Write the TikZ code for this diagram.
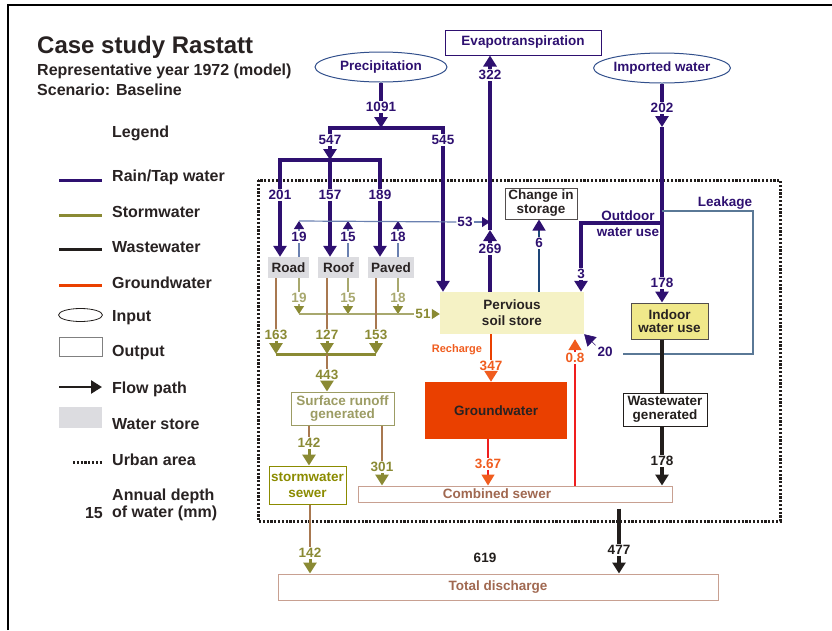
\documentclass[tikz,border=0pt]{standalone}
\usepackage{fontspec}
\setmainfont{Liberation Sans}
\usetikzlibrary{arrows.meta,positioning,shapes.geometric}

\definecolor{rain}{RGB}{46,16,112}
\definecolor{inputbd}{RGB}{50,80,140}
\definecolor{thinblue}{RGB}{106,128,176}
\definecolor{leakbd}{RGB}{90,120,150}
\definecolor{chgln}{RGB}{30,70,120}
\definecolor{storm}{RGB}{138,138,52}
\definecolor{stormlt}{RGB}{168,168,110}
\definecolor{stormtxt}{RGB}{139,139,0}
\definecolor{runoff}{RGB}{156,156,100}
\definecolor{brownl}{RGB}{168,120,80}
\definecolor{waste}{RGB}{34,30,28}
\definecolor{gw}{RGB}{234,64,0}
\definecolor{gwtxt}{RGB}{240,92,30}
\definecolor{gwred}{RGB}{240,30,30}
\definecolor{soil}{RGB}{245,242,197}
\definecolor{indoorfill}{RGB}{240,232,138}
\definecolor{storefill}{RGB}{220,220,224}
\definecolor{sewerbd}{RGB}{200,160,145}
\definecolor{sewertxt}{RGB}{160,104,80}
\definecolor{dark}{RGB}{40,34,34}

\newcommand{\legendfont}{\bfseries\fontsize{16}{17}\selectfont}
\newcommand{\boxfont}[1]{\bfseries\fontsize{13.5}{#1}\selectfont}

\begin{document}
\begin{tikzpicture}[x=1pt, y=-1pt,
    font=\boxfont{15},
    legtxt/.style={anchor=west, inner sep=0pt, font=\legendfont, text=dark},
    num/.style={inner sep=1pt},
    rainlbl/.style={num, text=rain},
    stormlbl/.style={num, text=storm},
    stormltlbl/.style={num, text=stormlt},
    gwlbl/.style={num, text=gwtxt},
    wastelbl/.style={num, text=waste},
    box/.style={align=center, inner sep=1pt, text=dark},
    store/.style={box, fill=storefill, minimum height=21pt},
    input/.style={ellipse, draw=inputbd, line width=1pt, text=rain, minimum width=132pt, minimum height=30pt, inner sep=0pt},
    rainln/.style={draw=rain, line width=3.5pt},
    rainthin/.style={draw=thinblue, line width=1.2pt},
    stormln/.style={draw=storm, line width=3pt},
    stormthin/.style={draw=stormlt, line width=1.3pt},
    brownln/.style={draw=brownl, line width=2pt},
    wasteln/.style={draw=waste, line width=3.5pt},
    gwln/.style={draw=gw, line width=2.5pt},
    redln/.style={draw=gwred, line width=1.5pt},
    leakln/.style={draw=leakbd, line width=1.2pt},
    urban/.style={draw=waste, line width=3pt, dash pattern=on 2.2pt off 1.6pt},
    headc/.style={-{Triangle[width=13pt,length=11pt,color=#1]}},
    sheadc/.style={-{Triangle[width=10pt,length=8pt,color=#1]}}
]
\useasboundingbox (0,0) rectangle (832,630);

% frame and urban area
\coordinate (fr1) at (8,630);
\coordinate (fr2) at (832,5);
\draw[line width=1.5pt] (fr1) |- (fr2);
\draw[urban] (258,180) rectangle (780,521);

% title
\node[legtxt, font=\bfseries\fontsize{24}{28}\selectfont] (title) at (37,47) {Case study Rastatt};
\node[legtxt] (subtitle) at (37,71) {Representative year 1972 (model)};
\node[legtxt] (scenario) at (37,90) {Scenario: Baseline};

% legend
\node[legtxt] (leghead) at (112,133) {Legend};
\node[legtxt] (lgrain) at (112,177) {Rain/Tap water};
\node[legtxt] (lgstorm) at (112,212) {Stormwater};
\node[legtxt] (lgwaste) at (112,247) {Wastewater};
\node[legtxt] (lggw) at (112,283) {Groundwater};
\node[legtxt] (lgin) at (112,318) {Input};
\node[legtxt] (lgout) at (112,353) {Output};
\node[legtxt] (lgflow) at (112,389) {Flow path};
\node[legtxt] (lgstore) at (112,424) {Water store};
\node[legtxt] (lgurban) at (112,460) {Urban area};
\node[legtxt, align=left] (lgdepth) at (112,505) {Annual depth\\of water (mm)};
\node[legtxt, anchor=east] (lgnum) at (103,513) {15};
\draw[draw=rain, line width=3pt] (59,180) -- (102,180);
\draw[draw=storm, line width=3pt] (59,215) -- (102,215);
\draw[draw=waste, line width=3pt] (59,249) -- (102,249);
\draw[draw=gw, line width=3pt] (59,285) -- (102,285);
\node[ellipse, draw=waste, line width=0.8pt, minimum width=44pt, minimum height=13pt, inner sep=0pt] (smpin) at (80.5,315) {};
\node[draw=gray, line width=0.8pt, minimum width=43pt, minimum height=19pt, inner sep=0pt] (smpout) at (80.5,346.5) {};
\draw[draw=waste, line width=2.5pt, headc=waste] (59,387) -- (102,387);
\node[fill=storefill, minimum width=43pt, minimum height=21pt, inner sep=0pt] (smpstore) at (80.5,417.5) {};
\draw[urban] (73,462) -- (103,462);

% inputs and outputs
\node[input] (precip) at (381,67) {Precipitation};
\node[draw=rain, line width=1pt, text=rain, minimum width=156pt, minimum height=25pt, inner sep=0pt] (evap) at (523,42.5) {Evapotranspiration};
\node[input] (imported) at (662,68) {Imported water};

% stores and boxes
\node[store, minimum width=41pt] (road) at (288.5,267.5) {Road};
\node[store, minimum width=41pt] (roof) at (338.5,267.5) {Roof};
\node[store, minimum width=46pt] (paved) at (391,267.5) {Paved};
\node[box, fill=soil, minimum width=144pt, minimum height=42pt, font=\boxfont{16}] (perv) at (512,313) {Pervious\\soil store};
\node[box, draw=dark!80, line width=1pt, minimum width=72pt, minimum height=31pt, font=\boxfont{14}] (chg) at (541,203.5) {Change in\\storage};
\node[box, draw=dark!80, fill=indoorfill, line width=1pt, minimum width=77pt, minimum height=36pt, font=\boxfont{13}] (indoor) at (669.5,321) {Indoor\\water use};
\node[box, fill=gw, minimum width=142pt, minimum height=57pt] (gwbox) at (496,410.5) {Groundwater};
\node[box, draw=waste, line width=1pt, text=waste, minimum width=84pt, minimum height=33pt, font=\boxfont{14}] (waste) at (665,409.5) {Wastewater\\generated};
\node[box, draw=runoff, line width=1pt, text=runoff, minimum width=103pt, minimum height=33pt, font=\boxfont{12.5}] (runoff) at (342.5,408.5) {Surface runoff\\generated};
\node[box, draw=stormtxt, line width=1pt, text=stormtxt, minimum width=77pt, minimum height=38pt, font=\boxfont{16}] (swsewer) at (307.5,485) {stormwater\\sewer};
\node[draw=sewerbd, line width=1pt, minimum width=314pt, minimum height=16pt, inner sep=0pt] (combined) at (515,494) {};
\node[text=sewertxt, inner sep=0pt] (combtxt) at (497,494) {Combined sewer};
\node[draw=sewerbd, line width=1pt, text=sewertxt, minimum width=440pt, minimum height=26pt, inner sep=0pt] (total) at (498,587) {Total discharge};

% rain / tap water labels
\node[rainlbl] (l1091) at (381,107) {1091};
\node[rainlbl] (l547) at (330,140) {547};
\node[rainlbl] (l545) at (443,140) {545};
\node[rainlbl] (l201) at (280,195) {201};
\node[rainlbl] (l157) at (330,195) {157};
\node[rainlbl] (l189) at (380,195) {189};
\node[rainlbl] (l19u) at (299,237) {19};
\node[rainlbl] (l15u) at (348,237) {15};
\node[rainlbl] (l18u) at (398,237) {18};
\node[rainlbl] (l53) at (465,222) {53};
\node[rainlbl] (l269) at (490,249) {269};
\node[rainlbl] (l322) at (490,75) {322};
\node[rainlbl] (l6) at (539,243) {6};
\node[rainlbl] (l3) at (581,274) {3};
\node[rainlbl] (l202) at (662,108) {202};
\node[rainlbl] (l178) at (662,283) {178};
\node[rainlbl] (l20) at (605,352) {20};
\node[text=rain, align=center, font=\boxfont{16}] (odtxt) at (628,224) {Outdoor\\water use};
\node[text=rain] (leaktxt) at (725,203) {Leakage};

% stormwater labels
\node[stormltlbl] (l19d) at (299,298) {19};
\node[stormltlbl] (l15d) at (348,298) {15};
\node[stormltlbl] (l18d) at (398,298) {18};
\node[stormlbl] (l51) at (423,314) {51};
\node[stormlbl] (l163) at (276,335) {163};
\node[stormlbl] (l127) at (327,335) {127};
\node[stormlbl] (l153) at (376,335) {153};
\node[stormlbl] (l443) at (327,375) {443};
\node[stormlbl] (l142a) at (309,443) {142};
\node[stormlbl] (l301) at (382,467) {301};
\node[stormlbl] (l142b) at (310,553) {142};

% groundwater and wastewater labels
\node[text=gwtxt, font=\bfseries\fontsize{11}{12}\selectfont] (rech) at (457,350) {Recharge};
\node[gwlbl] (l347) at (491,366) {347};
\node[gwlbl] (l367) at (488,464) {3.67};
\node[gwlbl] (l08) at (575,358) {0.8};
\node[wastelbl] (l178b) at (662,461) {178};
\node[wastelbl] (l477) at (619,550) {477};
\node[wastelbl] (l619) at (485,558) {619};

% precipitation split
\coordinate (b1l) at (330,128);
\coordinate (b1r) at (443,128);
\coordinate (b2l) at (280,160);
\coordinate (b2r) at (380,160);
\draw[rainln] (precip) -- (l1091);
\draw[rainln, headc=rain] (l1091) -- (l1091 |- b1l);
\draw[rainln] (l547) -- (b1l) -- (b1r) -- (l545);
\draw[rainln, headc=rain] (l547) -- (l547 |- b2l);
\draw[rainln] (l201) -- (b2l) -- (b2r) -- (l189);
\draw[rainln] (l547 |- b2l) -- (l157);
\draw[rainln, headc=rain] (l201) -- (l201 |- road.north);
\draw[rainln, headc=rain] (l157) -- (l157 |- roof.north);
\draw[rainln, headc=rain] (l189) -- (l189 |- paved.north);
\draw[rainln, headc=rain] (l545) -- (l545 |- perv.north);

% evapotranspiration
\coordinate (e269) at (490,230);
\draw[rainln] (l269 |- perv.north) -- (l269);
\draw[rainln, headc=rain] (l269) -- (e269);
\draw[rainln] (e269) -- (l322);
\draw[rainln, headc=rain] (l322) -- (l322 |- evap.south);

% evaporation from stores
\coordinate (h53) at (299,221);
\draw[rainthin] (l19u |- road.north) -- (l19u);
\draw[rainthin, sheadc=rain] (l19u) -- (h53);
\draw[rainthin] (l15u |- roof.north) -- (l15u);
\draw[rainthin, sheadc=rain] (l15u) -- (l15u |- h53);
\draw[rainthin] (l18u |- paved.north) -- (l18u);
\draw[rainthin, sheadc=rain] (l18u) -- (l18u |- h53);
\draw[rainthin] (h53) -- (l53);
\draw[rainthin, sheadc=rain] (l53) -- (l53 -| e269);

% change in storage
\draw[draw=chgln, line width=1.2pt] (l6 |- perv.north) -- (l6);
\draw[draw=chgln, line width=1.2pt, headc=rain] (l6) -- (l6 |- chg.south);

% imported water
\coordinate (i127) at (662,127);
\coordinate (od) at (662,223);
\coordinate (lk) at (662,211);
\coordinate (lkr) at (753,211);
\coordinate (lke) at (623,354);
\draw[rainln] (imported) -- (l202);
\draw[rainln, headc=rain] (l202) -- (i127);
\draw[rainln] (i127) -- (l178);
\draw[rainln, headc=rain] (l178) -- (l178 |- indoor.north);
\draw[rainln] (od) -| (l3);
\draw[rainln, headc=rain] (l3) -- (l3 |- perv.north);
\draw[leakln] (lk) -- (lkr) |- (lke);
\draw[draw=rain, line width=0.6pt, headc=rain, shorten <=1pt] (l20.north west) -- (perv.south east);

% groundwater
\draw[gwln] (l347 |- perv.south) -- (l347);
\draw[gwln, headc=gwtxt] (l347) -- (l347 |- gwbox.north);
\draw[redln] (l367 |- gwbox.south) -- (l367);
\draw[redln, headc=gwtxt] (l367) -- (l367 |- combined.north);
\draw[redln] (l08 |- combined.north) -- (l08);
\draw[redln, headc=gwtxt, shorten >=5pt] (l08) -- (l08 |- perv.south);

% stormwater
\coordinate (h51) at (299,314);
\coordinate (b3l) at (276,354);
\coordinate (b3r) at (376,354);
\draw[stormthin] (l19d |- road.south) -- (l19d);
\draw[stormthin, sheadc=storm] (l19d) -- (h51);
\draw[stormthin] (l15d |- roof.south) -- (l15d);
\draw[stormthin, sheadc=storm] (l15d) -- (l15d |- h51);
\draw[stormthin] (l18d |- paved.south) -- (l18d);
\draw[stormthin, sheadc=storm] (l18d) -- (l18d |- h51);
\draw[stormthin] (h51) -- (l51);
\draw[stormthin, sheadc=storm] (l51) -- (l51 -| perv.west);
\draw[brownln] (l163 |- road.south) -- (l163);
\draw[brownln] (l127 |- roof.south) -- (l127);
\draw[brownln] (l153 |- paved.south) -- (l153);
\draw[stormln, headc=storm] (l163) -- (b3l);
\draw[stormln, headc=storm] (l127) -- (l127 |- b3l);
\draw[stormln, headc=storm] (l153) -- (b3r);
\draw[stormln] (b3l) -- (b3r);
\draw[brownln] (l127 |- b3l) -- (l443);
\draw[stormln, headc=storm] (l443) -- (l443 |- runoff.north);
\draw[brownln] (l142a |- runoff.south) -- (l142a);
\draw[stormln, headc=storm] (l142a) -- (l142a |- swsewer.north);
\draw[brownln] (l301 |- runoff.south) -- (l301);
\draw[stormln, headc=storm] (l301) -- (l301 |- combined.north);
\draw[brownln] (l142b |- swsewer.south) -- (l142b);
\draw[stormln, headc=storm] (l142b) -- (l142b |- total.north);

% wastewater
\draw[wasteln] (lk |- indoor.south) -- (lk |- waste.north);
\draw[wasteln] (l178b |- waste.south) -- (l178b);
\draw[wasteln, headc=waste] (l178b) -- (l178b |- combined.north);
\draw[wasteln, shorten <=6pt] (l477 |- combined.south) -- (l477);
\draw[wasteln, headc=waste] (l477) -- (l477 |- total.north);
\end{tikzpicture}
\end{document}
